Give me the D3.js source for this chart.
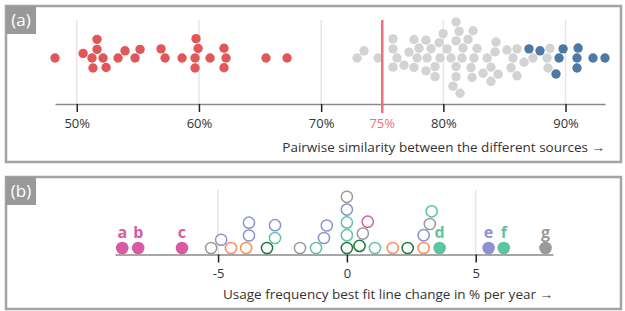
<!DOCTYPE html>
<html><head><meta charset="utf-8">
<script src="https://cdn.jsdelivr.net/npm/d3@7"></script>
<style>body{margin:0;background:#fff} svg{display:block} text{font-family:"Open Sans",sans-serif}</style>
</head><body><svg id="c" width="625" height="311"></svg>
<script>
// ---------- Panel (a) data: pairwise similarity (%) ----------
const redValues = [48.22, 51.25, 52.15, 51.66, 51.33, 52.40, 51.66, 50.52, 53.38, 53.95, 54.77, 55.18,
  57.23, 56.90, 58.62, 59.68, 59.93, 59.68, 59.76, 60.91, 62.22, 62.05, 62.05, 65.49, 67.21];
const grayValues = [72.94, 74.66, 76.21, 77.85, 79.73, 80.63, 81.53, 82.51, 83.58, 85.70, 87.34, 88.49,
  78.67, 84.23, 77.19, 78.99, 78.01, 80.30, 82.76, 83.90, 85.21, 86.03, 88.73, 73.51, 76.78, 75.88,
  77.60, 79.32, 81.04, 82.27, 83.25, 85.54, 88.57, 75.88, 79.65, 81.61, 84.31, 86.03, 78.58, 79.32,
  81.04, 82.02, 84.48, 86.60, 77.60, 75.88, 79.98, 78.58, 82.35, 81.04, 82.43, 83.90, 81.29, 80.79,
  81.04, 81.37];
const blueValues = [87.01, 87.91, 89.22, 89.47, 89.80, 90.94, 91.03, 90.94, 92.25, 93.23];
const simTicks = [50, 60, 70, 80, 90];
const threshold = 75;
const simTitle = "Pairwise similarity between the different sources \u2192";

// ---------- Panel (b) data: usage frequency change (% per year) ----------
const usageValues = [-5.27, -4.50, -3.91, -3.10, -1.82, -1.20, 0, 0.49, 1.09, 1.78, 2.36, 2.98,
  -4.88, -3.80, -2.79, -0.89, 0, 0.62, 2.98,
  -3.80, -2.79, -0.78, 0, 0.81, 3.22,
  0, 3.29,
  0];
const usageGroups = ["gray","orange","orange","dkgreen","gray","teal","dkgreen","dkgreen","teal","orange","dkgreen","orange",
  "blue","blue","teal","blue","teal","gray","blue",
  "blue","blue","blue","teal","pink","gray",
  "blue","teal",
  "gray"];
const hlValues = [-8.72, -8.10, -6.40, 3.60, 5.50, 6.09, 7.71];
const hlLabels = ["a","b","c","d","e","f","g"];
const hlGroups = ["pink","pink","pink","teal","blue","teal","gray"];
const usageTicks = [-5, 0, 5];
const usageTitle = "Usage frequency best fit line change in % per year \u2192";

const groupColor = {gray:"#9a9a9a", orange:"#fc8d59", dkgreen:"#1b7a3a", teal:"#5fc4a0", blue:"#8a93cf", pink:"#d95ba3"};

// ---------- layout helpers ----------
function dodge2(xs, s) {
  const placed = [], ys = [];
  xs.forEach(x => {
    const iv = [];
    placed.forEach(p => { const dx = Math.abs(p.x - x); if (dx < s - 1e-9) { const dy = Math.sqrt(s*s - dx*dx); iv.push([p.y - dy, p.y + dy]); } });
    const c = [0]; iv.forEach(([a,b]) => c.push(a, b));
    const ok = c.filter(v => iv.every(([a,b]) => v <= a + 1e-6 || v >= b - 1e-6));
    ok.sort((a,b) => Math.abs(a) - Math.abs(b) || a - b);
    placed.push({x, y: ok[0]}); ys.push(ok[0]);
  });
  return ys;
}
function dodgeUp(xs, s) {
  const placed = [], ys = [];
  xs.forEach(x => {
    const iv = [];
    placed.forEach(p => { const dx = Math.abs(p.x - x); if (dx < s - 1e-9) { const dy = Math.sqrt(s*s - dx*dx); iv.push([p.y - dy, p.y + dy]); } });
    const c = [0]; iv.forEach(([a]) => c.push(a));
    const ok = c.filter(v => v <= 1e-9 && iv.every(([a,b]) => v <= a + 1e-6 || v >= b - 1e-6));
    ok.sort((a,b) => b - a);
    placed.push({x, y: ok[0]}); ys.push(ok[0]);
  });
  return ys;
}

const svg = d3.select("#c");

function panelFrame(y0, h, label) {
  svg.append("rect").attr("x", 6).attr("y", y0).attr("width", 615).attr("height", h)
    .attr("fill", "none").attr("stroke", "#a3a3a3").attr("stroke-width", 2.5);
  svg.append("rect").attr("x", 6).attr("y", y0).attr("width", 30).attr("height", 28).attr("fill", "#999");
  svg.append("text").attr("x", 21).attr("y", y0 + 20).attr("text-anchor", "middle")
    .attr("fill", "#fff").attr("font-size", 17).text(label);
}

// ---------- Panel (a) ----------
panelFrame(6, 156, "(a)");
const allSim = [...redValues, ...grayValues, ...blueValues];
const xa = d3.scaleLinear().domain(d3.extent(allSim)).range([55, 605]);
const axisYa = 104, cya = 58, ra = 4.7;
const ga = svg.append("g");
ga.selectAll("line.grid").data(simTicks).join("line")
  .attr("x1", d => xa(d)).attr("x2", d => xa(d)).attr("y1", 20).attr("y2", axisYa)
  .attr("stroke", "#e6e6e6").attr("stroke-width", 1.5);
const simPts = [
  ...redValues.map(v => ({v, c:"#e15759"})),
  ...grayValues.map(v => ({v, c:"#d3d3d3"})),
  ...blueValues.map(v => ({v, c:"#4e79a7"}))
];
const ysA = dodge2(simPts.map(d => xa(d.v)), 2*ra + 0.6);
ga.selectAll("circle").data(simPts).join("circle")
  .attr("cx", d => xa(d.v)).attr("cy", (d,i) => cya + ysA[i]).attr("r", ra).attr("fill", d => d.c);
const axA = svg.append("g").attr("transform", `translate(0,${axisYa})`)
  .call(d3.axisBottom(xa).tickValues(simTicks).tickFormat(d => d + "%").tickSize(8).tickSizeOuter(0).tickPadding(7));
axA.select(".domain").attr("stroke", "#8a8a8a").attr("stroke-width", 1.5);
axA.selectAll(".tick line").attr("stroke", "#222").attr("stroke-width", 1.5);
axA.selectAll(".tick text").attr("font-size", 13).attr("fill", "#333").attr("font-family", '"Open Sans",sans-serif');
svg.append("line").attr("x1", xa(threshold)).attr("x2", xa(threshold)).attr("y1", 20).attr("y2", 113)
  .attr("stroke", "#f16d7a").attr("stroke-width", 2.5);
svg.append("text").attr("x", xa(threshold)).attr("y", 128).attr("text-anchor", "middle")
  .attr("font-size", 13).attr("fill", "#f16d7a").text(threshold + "%");
svg.append("text").attr("x", 605).attr("y", 152).attr("text-anchor", "end")
  .attr("font-size", 13.5).attr("fill", "#333").text(simTitle);

// ---------- Panel (b) ----------
panelFrame(177, 132, "(b)");
const xb = d3.scaleLinear().domain([-9, 8]).range([115, 553]);
const axisYb = 254.5, cyb = 248, rb = 5.6;
svg.selectAll("line.gridb").data(usageTicks).join("line")
  .attr("x1", d => xb(d)).attr("x2", d => xb(d)).attr("y1", 190).attr("y2", axisYb)
  .attr("stroke", "#e6e6e6").attr("stroke-width", 1.5);
const bPts = [
  ...hlValues.map((v,i) => ({v, g: hlGroups[i], filled: true, label: hlLabels[i]})),
  ...usageValues.map((v,i) => ({v, g: usageGroups[i], filled: false}))
];
const ysB = dodgeUp(bPts.map(d => xb(d.v)), 2*rb + 1.6);
const axB = svg.append("g").attr("transform", `translate(0,${axisYb})`)
  .call(d3.axisBottom(xb).tickValues(usageTicks).tickFormat(d => String(d)).tickSize(8).tickSizeOuter(0).tickPadding(6));
axB.select(".domain").attr("stroke", "#8a8a8a").attr("stroke-width", 1.5);
axB.selectAll(".tick line").attr("stroke", "#222").attr("stroke-width", 1.5);
axB.selectAll(".tick text").attr("font-size", 13).attr("fill", "#333").attr("font-family", '"Open Sans",sans-serif');
svg.append("g").selectAll("circle").data(bPts).join("circle")
  .attr("cx", d => xb(d.v)).attr("cy", (d,i) => cyb + ysB[i]).attr("r", d => d.filled ? rb + 0.7 : rb)
  .attr("fill", d => d.filled ? groupColor[d.g] : "#fff")
  .attr("stroke", d => d.filled ? "none" : groupColor[d.g]).attr("stroke-width", 1.5);
svg.append("g").selectAll("text").data(bPts.filter(d => d.filled)).join("text")
  .attr("x", d => xb(d.v)).attr("y", 238).attr("text-anchor", "middle")
  .attr("font-size", 16).attr("font-weight", 700).attr("fill", d => groupColor[d.g]).text(d => d.label);
svg.append("text").attr("x", 553).attr("y", 299).attr("text-anchor", "end")
  .attr("font-size", 13.5).attr("fill", "#333").text(usageTitle);
</script></body></html>
